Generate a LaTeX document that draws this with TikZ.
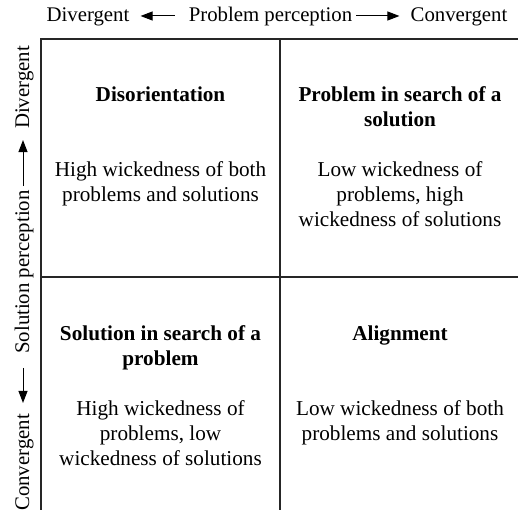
\documentclass[tikz,border=0pt]{standalone}
\usepackage{fontspec}
\setmainfont{Liberation Serif}
\usetikzlibrary{arrows.meta,positioning}

\begin{document}
\begin{tikzpicture}[x=1pt, y=-1pt,
    frame/.style={line width=1.1pt, black!85},
    axis/.style={font=\fontsize{20.8}{25}\selectfont, inner sep=0pt, anchor=base},
    axarrow/.style={-{Triangle[length=12pt, width=9pt]}, line width=1pt},
    cellhead/.style={font=\fontsize{21.2}{25}\selectfont\bfseries, align=center, inner sep=0pt, anchor=base},
    cellbody/.style={font=\fontsize{21.2}{25}\selectfont, align=center, inner sep=0pt, anchor=base}]
    \useasboundingbox (0,0) rectangle (518,510);

    % Quadrant lines (open at right and bottom)
    \draw[frame] (40,39) -- (518,39);
    \draw[frame] (41,39) -- (41,510);
    \draw[frame] (280,39) -- (280,510);
    \draw[frame] (41,277) -- (518,277);

    % Problem perception axis (top)
    \node[axis] (pp) at (270.5,22) {Problem perception};
    \node[axis, anchor=base east] (pdiv) at ([xshift=-59pt]pp.base west) {Divergent};
    \node[axis, anchor=base west] (pcon) at ([xshift=58pt]pp.base east) {Convergent};
    \draw[axarrow] ([xshift=-14pt,yshift=6pt]pp.base west) -- ([xshift=11pt,yshift=6pt]pdiv.base east);
    \draw[axarrow] ([xshift=4pt,yshift=6pt]pp.base east) -- ([xshift=-11pt,yshift=6pt]pcon.base west);

    % Solution perception axis (left, reads upwards)
    \node[axis, rotate=90] (sp) at (29,272) {Solution perception};
    \node[axis, rotate=90, anchor=base east] (scon) at ([yshift=-60pt]sp.base west) {Convergent};
    \node[axis, rotate=90, anchor=base west] (sdiv) at ([yshift=61pt]sp.base east) {Divergent};
    \draw[axarrow] ([xshift=-6pt,yshift=-14pt]sp.base west) -- ([xshift=-6pt,yshift=11pt]scon.base east);
    \draw[axarrow] ([xshift=-6pt,yshift=4pt]sp.base east) -- ([xshift=-6pt,yshift=-11pt]sdiv.base west);

    % Quadrants: heading and description (anchored at last baseline)
    \node[cellhead] (h11) at (160.5,101.7) {Disorientation};
    \node[cellbody] (b11) at (160.5,201.7) {High wickedness of both\\problems and solutions};
    \node[cellhead] (h12) at (400,126.7) {Problem in search of a\\solution};
    \node[cellbody] (b12) at (400,226.7) {Low wickedness of\\problems, high\\wickedness of solutions};
    \node[cellhead] (h21) at (160.5,365) {Solution in search of a\\problem};
    \node[cellbody] (b21) at (160.5,465) {High wickedness of\\problems, low\\wickedness of solutions};
    \node[cellhead] (h22) at (400,340) {Alignment};
    \node[cellbody] (b22) at (400,440) {Low wickedness of both\\problems and solutions};
\end{tikzpicture}
\end{document}
